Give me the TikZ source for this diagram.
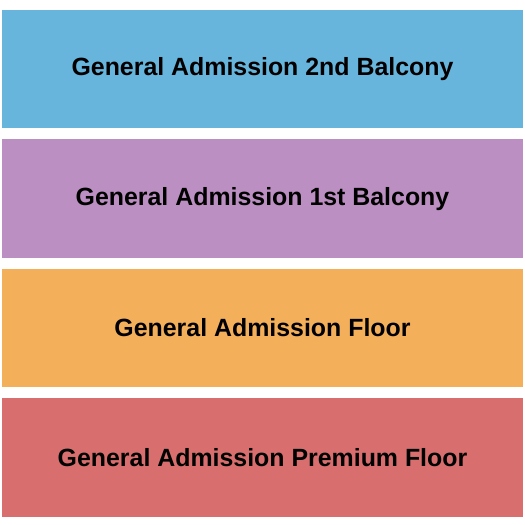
\documentclass[tikz,border=0pt]{standalone}
\usepackage{fontspec}
\setmainfont{Liberation Sans}
\usetikzlibrary{positioning}
\definecolor{balcTwo}{RGB}{103,181,220}
\definecolor{balcOne}{RGB}{188,143,194}
\definecolor{floorCol}{RGB}{244,175,91}
\definecolor{premCol}{RGB}{216,111,110}
\tikzset{section/.style={draw=none,minimum width=521pt,minimum height=118.5pt,inner sep=0pt,font=\fontsize{24.9}{29}\selectfont\bfseries}}

\begin{document}
\begin{tikzpicture}[x=1pt,y=1pt]
	\useasboundingbox (0,0) rectangle (525,525);
	% sections, top to bottom
	\node [section,fill=balcTwo] (balc2) at (262.5,455.75) {General Admission 2nd Balcony};
	\node [section,fill=balcOne,below=10.5pt of balc2] (balc1) {General Admission 1st Balcony};
	\node [section,fill=floorCol,below=10.5pt of balc1] (floor) {General Admission Floor};
	\node [section,fill=premCol,below=10.5pt of floor] (prem) {General Admission Premium Floor};
\end{tikzpicture}
\end{document}
